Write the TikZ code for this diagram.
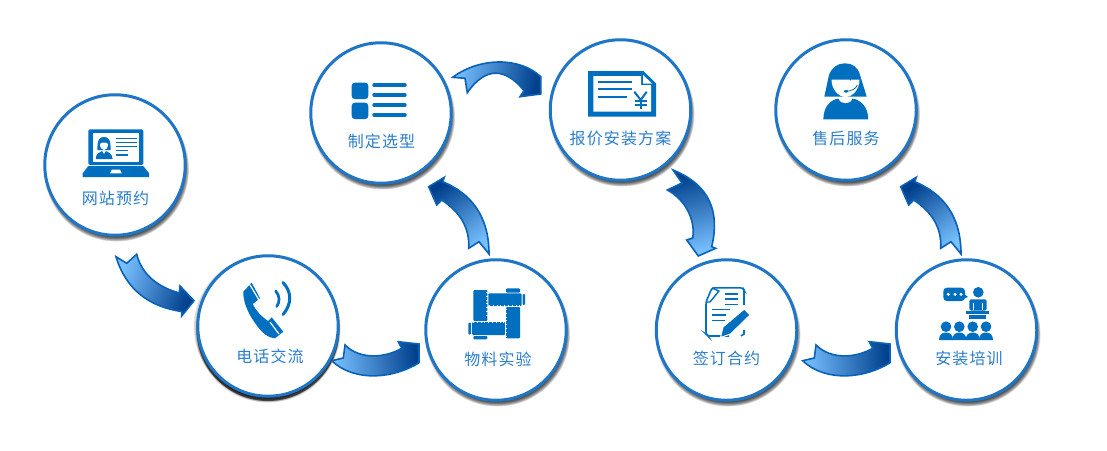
\documentclass[tikz,border=0pt]{standalone}
\usepackage{fontspec}
\newfontfamily\cjk[LetterSpace=7]{Noto Sans CJK SC}
\definecolor{ring}{HTML}{1F75C6}
\definecolor{icon}{HTML}{006FBF}
\definecolor{lab}{HTML}{2B7ECB}
\definecolor{arrowedge}{HTML}{0A62B8}
\definecolor{arrowlight}{HTML}{78C0FF}
\definecolor{arrowdark}{HTML}{003F8C}
\tikzset{
  stage/.style={circle,draw=ring,line width=3pt,fill=white,minimum size=140.5pt,inner sep=0pt},
  stagelabel/.style={font=\cjk\fontsize{16pt}{18pt}\selectfont,text=lab,inner sep=0pt},
  blockarrow/.style={draw=arrowedge,line width=1.6pt,line join=miter},
  ic/.style={fill=icon,draw=none},
  whf/.style={fill=white,draw=none}
}
% shadow + ring: name, x, y, shadow dx, dy
\newcommand{\stagecircle}[5]{%
  \foreach \k in {0,...,7}{%
    \fill[black,opacity=0.13] (#2+#4,#3+#5) circle ({72.5-\k*0.6});
  }
  \node[stage] (#1) at (#2,#3) {};
}
\def\lowpath{(331.7,360.7) -- (343.3,358) -- (345,345) .. controls (360,360) and (385,358) .. (401.7,348.3) -- (398.3,341.7) -- (419,344) -- (419,362.7) .. controls (395,378) and (355,383) .. cycle}
\def\uppath{(489,254) -- (479,241.7) -- (468.7,248.3) .. controls (470,225) and (457,210) .. (441.7,200) -- (436.7,205) -- (428.7,186.7) -- (444.3,177.3) -- (442.7,181.7) .. controls (470,193) and (489,215) .. cycle}
\begin{document}
\begin{tikzpicture}[x=1pt,y=-1pt]
\useasboundingbox (0,0) rectangle (1107,450);
\fill[white] (0,0) rectangle (1107,450);

\stagecircle{n1}{115}{165}{1.5}{4}
\fill[black!30,opacity=0.5] (265.5,327) circle (71.5);
\fill[black,opacity=0.55] (268,329.5) circle (71.5);
\stagecircle{n2}{268}{326}{0}{4}
\stagecircle{n3}{381}{113}{1.5}{4}
\stagecircle{n4}{620.5}{110}{1.5}{4}
\stagecircle{n5}{496}{330}{1.5}{4}
\stagecircle{n6}{726.5}{330}{1.5}{4}
\stagecircle{n7}{966.5}{330}{1.5}{4}
\stagecircle{n8}{846}{110}{1.5}{4}

\node[stagelabel] (l1) at (115.5,198) {网站预约};
\node[stagelabel] (l2) at (270,356) {电话交流};
\node[stagelabel] (l3) at (381.5,141) {制定选型};
\node[stagelabel] (l4) at (620.5,138) {报价安装方案};
\node[stagelabel] (l5) at (498,359) {物料实验};
\node[stagelabel] (l6) at (726.5,358) {签订合约};
\node[stagelabel] (l7) at (969,358) {安装培训};
\node[stagelabel] (l8) at (846,138) {售后服务};

% block arrows
\path[blockarrow,top color=arrowdark,bottom color=arrowlight,shading angle=-110]
  (116,256.7) -- (126.7,263.3) -- (136.7,254.3) .. controls (142,275) and (158,287) .. (179.3,293) -- (180,286) -- (194,300.7) -- (181.7,316) -- (181.7,311.5) .. controls (150,307) and (126,290) .. cycle;
\path[blockarrow,top color=arrowdark,bottom color=arrowlight,shading angle=-85] \lowpath;
\path[blockarrow,top color=arrowdark,bottom color=arrowlight,shading angle=36] \uppath;
\path[blockarrow,top color=arrowdark,bottom color=arrowlight,shading angle=-100]
  (452.7,77.3) -- (465,78.3) -- (467.3,92.7) .. controls (485,67) and (505,67) .. (524,90.7) -- (520,96.7) -- (540.7,94) -- (540.7,76.7) .. controls (520,57) and (480,57) .. cycle;
\path[blockarrow,top color=arrowdark,bottom color=arrowlight,shading angle=15]
  (673,170) -- (682,183) -- (667.3,190) .. controls (683,198) and (696,218) .. (692.7,238) -- (686.7,240) -- (698.3,256) -- (715.7,248.3) -- (711.7,246.7) .. controls (720,212) and (710,185) .. cycle;
\path[blockarrow,top color=arrowdark,bottom color=arrowlight,shading angle=-85,xshift=471pt] \lowpath;
\path[blockarrow,top color=arrowdark,bottom color=arrowlight,shading angle=36,xshift=472pt] \uppath;

% laptop
\fill[ic,rounded corners=1.5pt] (88.3,129.3) rectangle (143.3,165);
\fill[whf] (92.7,133.3) rectangle (139.3,161.7);
\fill[ic] (88.3,166) -- (143.3,166) -- (149,173.3) -- (149,177) -- (82.7,177) -- (82.7,173.3) -- cycle;
\fill[whf] (110,173.3) -- (121.7,173.3) -- (120,169.5) -- (112,169.5) -- cycle;
\fill[ic] (97.5,150) .. controls (97,139) and (100,137) .. (104,137) .. controls (108,137) and (111,139) .. (110.5,150) -- cycle;
\fill[whf] (100,144) .. controls (101,142) and (107,142) .. (108,144) .. controls (108,152) and (100,152) .. (100,144) -- cycle;
\fill[ic] (95.7,159) .. controls (96,154) and (99,152) .. (102,151) -- (104,154) -- (106,151) .. controls (109,152) and (112,154) .. (112.7,159) -- cycle;
\foreach \yy/\xe in {138.3/136.7,142.7/136.7,146.7/136.7,150.7/128.3,155/128.3}{
  \draw[icon,line width=1.3pt] (116,\yy) -- (\xe,\yy);
}

% phone
\fill[ic] (243.3,291.7) -- (251.7,282.7) -- (260,298.3) -- (252.7,304) .. controls (256,311) and (261,316) .. (268,321) -- (271.7,317.3) -- (283.3,331.7) -- (275,338.3) .. controls (268,338) and (262,333) .. (255,323) .. controls (248,313) and (243,302) .. cycle;
\draw[white,line width=1.2pt] (250,285) -- (259,300);
\draw[white,line width=1.2pt] (270,322) -- (279,334);
\draw[icon,line width=2.7pt,line cap=round] (275.7,291) .. controls (280,296) and (280,302) .. (276.7,306.5);
\draw[icon,line width=3pt,line cap=round] (283,282.5) .. controls (292,292) and (292,304) .. (283,314.5);

% list
\fill[ic,rounded corners=3pt] (351.7,82.7) rectangle (368.3,99);
\fill[ic,rounded corners=3pt] (351.7,102.7) rectangle (368.3,119);
\foreach \yy in {85,95,105,115}{
  \draw[icon,line width=3.4pt,line cap=round] (374,\yy) -- (405,\yy);
}

% invoice
\fill[ic] (588,71) -- (643.3,71) -- (656,83.3) -- (656,116.7) -- (588,116.7) -- cycle;
\fill[whf] (593.3,76) -- (641,76) -- (641,85) -- (651,85) -- (651,111.7) -- (593.3,111.7) -- cycle;
\fill[whf] (643,75) -- (652,83.5) -- (643,83.5) -- cycle;
\draw[icon,line width=1.7pt] (598.3,81.7) -- (632.3,81.7);
\draw[icon,line width=1.7pt] (598.3,89.3) -- (632.3,89.3);
\draw[icon,line width=1.7pt] (598.3,97.3) -- (626.7,97.3);
\draw[icon,line width=2pt] (634.3,91.7) -- (640.7,100) -- (646.7,91.7);
\draw[icon,line width=2pt] (640.7,100) -- (640.7,109.3);
\draw[icon,line width=1.6pt] (635,101) -- (647,101);
\draw[icon,line width=1.6pt] (635,105) -- (647,105);

% rulers
\fill[ic,rounded corners=1pt] (473.3,290) rectangle (487.3,321);
\fill[ic,rounded corners=1pt] (472,322) rectangle (505,335);
\fill[ic,rounded corners=1pt] (468.3,322.5) rectangle (471,334.5);
\fill[ic,rounded corners=1pt] (473.3,336) rectangle (487.3,339.3);
\fill[ic,rounded corners=1pt] (488.3,293.3) rectangle (521.5,306);
\fill[ic,rounded corners=1pt] (522.5,294) rectangle (525,305);
\fill[ic,rounded corners=1pt] (506,288.3) rectangle (520,292.7);
\fill[ic,rounded corners=1pt] (506,307) rectangle (520,338.3);
\draw[white,line width=1.4pt,dash pattern=on 0.8pt off 3pt] (487,292) -- (487,318);
\draw[white,line width=1.6pt,dash pattern=on 0.8pt off 3pt] (489,306) -- (520,306);
\draw[white,line width=1.6pt,dash pattern=on 0.8pt off 3pt] (506,309) -- (506,336);
\draw[white,line width=1.6pt,dash pattern=on 0.8pt off 3pt] (473,322) -- (504,322);

% contract
\draw[icon,line width=1.6pt,rounded corners=2.5pt] (729,336) -- (708,336) -- (706,334) -- (706,302) -- (712,287.8) -- (743,287.8) -- (744,290) -- (744,305);
\draw[icon,line width=1.6pt] (744,330) -- (744,334) -- (741,336);
\draw[icon,line width=1.4pt,line join=round] (712,288) -- (719,291) -- (710,302) -- (706,302);
\draw[icon,line width=1.5pt] (725,294) -- (738.3,294);
\draw[icon,line width=1.5pt] (725,299) -- (738.3,299);
\draw[icon,line width=1.5pt] (725,304.3) -- (738.3,304.3);
\draw[icon,line width=1.5pt] (712.3,309.5) -- (730,309.5);
\draw[icon,line width=1.5pt] (712.3,315) -- (726,315);
\draw[icon,line width=1.5pt] (712.3,320.7) -- (725,320.7);
\fill[ic,draw=white,line width=1pt] (723,327) -- (744.3,309) -- (750,315) -- (730.5,334) -- (720.5,337.5) -- cycle;

% trainer
\fill[ic,rounded corners=3.5pt] (943.3,287.7) rectangle (965,301);
\fill[ic] (964,294) -- (968,297) -- (964,298.5) -- cycle;
\foreach \xx in {948.3,955,961}{ \fill[whf] (\xx,294.3) circle (1.7); }
\fill[ic] (978.3,292.3) circle (5.3);
\fill[ic,rounded corners=2pt] (969.3,310.5) -- (969.3,299.3) -- (986.7,299.3) -- (986.7,310.5) -- cycle;
\draw[white,line width=0.8pt] (973.5,303) -- (973.5,310);
\draw[white,line width=0.8pt] (982.5,303) -- (982.5,310);
\fill[ic] (966,311) rectangle (989.3,314);
\fill[ic] (969.3,314.6) rectangle (986,319.3);
\foreach \xx in {946,959.3,972.7,986}{
  \fill[ic] (\xx,326.7) circle (5.3);
}
\foreach \xx in {946,959.3,972.7,986}{
  \fill[ic] (\xx-7,340) .. controls (\xx-7,335) and (\xx-4,332.5) .. (\xx,332.5) .. controls (\xx+4,332.5) and (\xx+7,335) .. (\xx+7,340) -- cycle;
}

% agent
\fill[ic] (824.3,96.7) -- (829,75) .. controls (832,67) and (838,63.3) .. (845,63.3) .. controls (852,63.3) and (858,67) .. (860,75) -- (866.7,96.7) -- cycle;
\fill[whf] (831.5,79.5) -- (849.5,79.5) -- (850.5,81.5) -- (851,79.5) -- (859.5,79.5) .. controls (859.5,90) and (852,97) .. (845.5,97) .. controls (839,97) and (831.5,90) .. (831.5,79.5) -- cycle;
\fill[ic] (823.3,119.3) .. controls (823.5,107) and (830,100) .. (838.5,98.5) .. controls (840,105) and (851,105) .. (852.5,98.5) .. controls (861,100) and (868,107) .. (868.3,119.3) -- cycle;
\draw[icon,line width=0.8pt] (857.3,85) .. controls (856,89) and (851,91) .. (847,91.3);
\fill[ic,rounded corners=1pt] (844,90) rectangle (848,92.5);
\end{tikzpicture}
\end{document}
